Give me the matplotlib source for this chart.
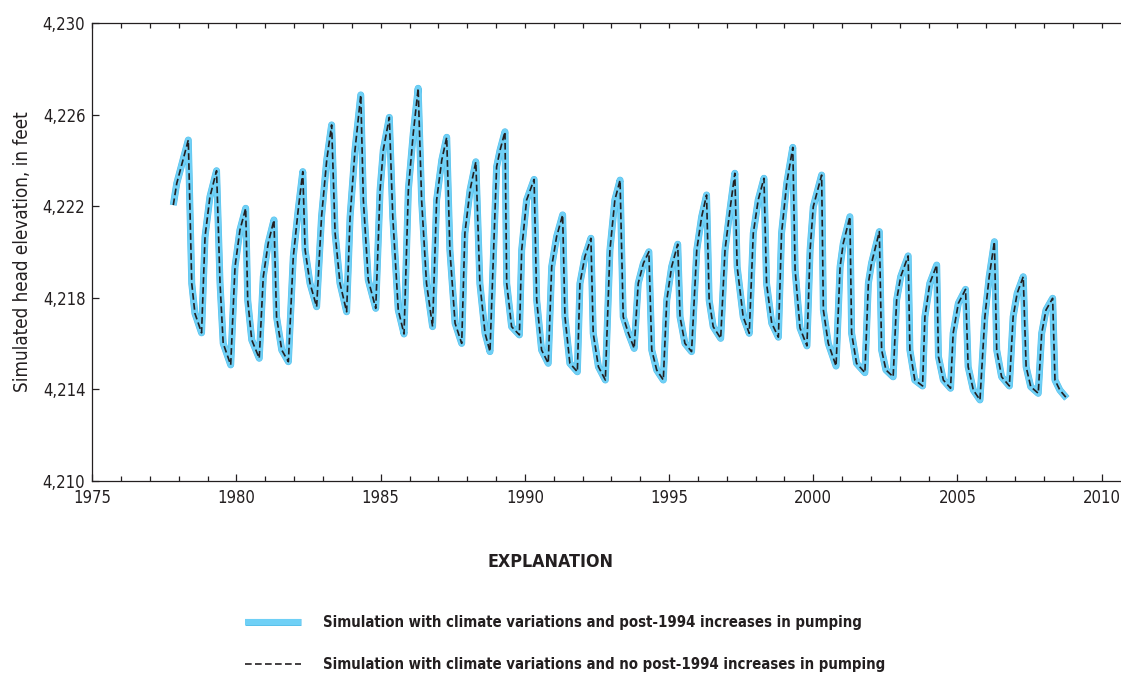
import matplotlib
matplotlib.use("Agg")
import matplotlib.pyplot as plt
import matplotlib.patheffects as pe
from matplotlib.ticker import MultipleLocator, StrMethodFormatter

# one row per yearly cycle (peak, fall, trough, rise)
decimal_year = [
    1977.81, 1977.93,
    1978.33, 1978.45, 1978.56, 1978.79, 1978.91, 1979.08,
    1979.31, 1979.43, 1979.54, 1979.80, 1979.95, 1980.12,
    1980.32, 1980.39, 1980.53, 1980.79, 1980.93, 1981.10,
    1981.30, 1981.39, 1981.57, 1981.80, 1981.97, 1982.14,
    1982.30, 1982.38, 1982.55, 1982.78, 1982.95, 1983.13,
    1983.30, 1983.42, 1983.59, 1983.82, 1983.94, 1984.11,
    1984.31, 1984.40, 1984.57, 1984.83, 1984.98, 1985.09,
    1985.30, 1985.42, 1985.61, 1985.81, 1985.96, 1986.13,
    1986.30, 1986.42, 1986.59, 1986.80, 1986.94, 1987.12,
    1987.29, 1987.40, 1987.58, 1987.81, 1987.92, 1988.10,
    1988.30, 1988.44, 1988.62, 1988.79, 1989.02, 1989.14,
    1989.31, 1989.37, 1989.54, 1989.81, 1989.89, 1990.06,
    1990.32, 1990.41, 1990.58, 1990.81, 1990.93, 1991.10,
    1991.31, 1991.39, 1991.56, 1991.82, 1991.91, 1992.08,
    1992.29, 1992.37, 1992.55, 1992.79, 1992.95, 1993.12,
    1993.30, 1993.41, 1993.59, 1993.79, 1993.93, 1994.11,
    1994.30, 1994.40, 1994.57, 1994.80, 1994.92, 1995.09,
    1995.30, 1995.38, 1995.55, 1995.78, 1995.96, 1996.13,
    1996.30, 1996.39, 1996.53, 1996.79, 1996.94, 1997.11,
    1997.28, 1997.36, 1997.57, 1997.78, 1997.92, 1998.09,
    1998.29, 1998.38, 1998.56, 1998.79, 1998.90, 1999.08,
    1999.29, 1999.37, 1999.54, 1999.78, 1999.89, 2000.00,
    2000.29, 2000.35, 2000.52, 2000.79, 2000.93, 2001.04,
    2001.27, 2001.33, 2001.50, 2001.79, 2001.91, 2002.02,
    2002.29, 2002.37, 2002.52, 2002.77, 2002.89, 2003.03,
    2003.29, 2003.35, 2003.52, 2003.79, 2003.87, 2004.04,
    2004.28, 2004.34, 2004.51, 2004.76, 2004.85, 2005.03,
    2005.28, 2005.37, 2005.55, 2005.78, 2005.95, 2006.10,
    2006.28, 2006.36, 2006.53, 2006.80, 2006.93, 2007.07,
    2007.28, 2007.38, 2007.54, 2007.80, 2007.92, 2008.07,
    2008.30, 2008.38, 2008.55, 2008.79,
]

head_post1994_pumping = [
    4222.05, 4223.00,
    4224.89, 4218.63, 4217.32, 4216.47, 4220.67, 4222.41,
    4223.55, 4218.65, 4216.01, 4215.07, 4219.36, 4220.96,
    4221.91, 4217.90, 4216.16, 4215.36, 4218.92, 4220.38,
    4221.40, 4217.17, 4215.72, 4215.21, 4219.79, 4221.83,
    4223.51, 4220.09, 4218.63, 4217.61, 4221.54, 4224.02,
    4225.55, 4220.82, 4218.63, 4217.39, 4221.54, 4224.45,
    4226.86, 4222.27, 4218.78, 4217.54, 4222.71, 4224.45,
    4225.88, 4221.54, 4217.47, 4216.42, 4222.71, 4225.18,
    4227.15, 4222.27, 4218.63, 4216.74, 4222.27, 4224.02,
    4225.01, 4220.09, 4216.89, 4216.01, 4220.82, 4222.71,
    4223.94, 4218.63, 4216.45, 4215.65, 4223.72, 4224.45,
    4225.25, 4218.63, 4216.74, 4216.38, 4220.09, 4222.27,
    4223.17, 4217.90, 4215.72, 4215.14, 4219.36, 4220.67,
    4221.62, 4217.17, 4215.14, 4214.77, 4218.63, 4219.79,
    4220.60, 4216.45, 4214.99, 4214.41, 4220.09, 4222.27,
    4223.14, 4217.17, 4216.45, 4215.79, 4218.63, 4219.51,
    4220.01, 4215.72, 4214.85, 4214.41, 4217.90, 4219.36,
    4220.34, 4217.17, 4216.01, 4215.65, 4220.09, 4221.54,
    4222.49, 4217.90, 4216.74, 4216.23, 4220.09, 4221.83,
    4223.44, 4219.36, 4217.17, 4216.45, 4220.82, 4222.27,
    4223.22, 4218.63, 4216.89, 4216.28, 4220.82, 4223.00,
    4224.57, 4219.21, 4216.68, 4215.90, 4220.09, 4221.98,
    4223.36, 4217.47, 4216.01, 4215.02, 4219.36, 4220.38,
    4221.54, 4216.45, 4215.14, 4214.73, 4218.63, 4219.51,
    4220.89, 4215.72, 4214.85, 4214.55, 4217.90, 4218.92,
    4219.83, 4215.72, 4214.41, 4214.15, 4217.17, 4218.63,
    4219.43, 4215.43, 4214.41, 4214.05, 4216.45, 4217.76,
    4218.37, 4214.99, 4213.97, 4213.54, 4217.17, 4218.92,
    4220.45, 4215.72, 4214.55, 4214.15, 4217.17, 4218.20,
    4218.92, 4214.99, 4214.12, 4213.83, 4216.45, 4217.47,
    4217.98, 4214.41, 4213.97, 4213.61,
]

# the two runs plot on top of each other at this scale
head_no_post1994_pumping = list(head_post1994_pumping)

y_ticks = [4210, 4214, 4218, 4222, 4226, 4230]

label_post = "Simulation with climate variations and post-1994 increases in pumping"
label_none = "Simulation with climate variations and no post-1994 increases in pumping"

ink = "#231f20"
cond = dict(family="DejaVu Sans", stretch="condensed")

fig = plt.figure(figsize=(11.21, 6.75), dpi=100)
ax = fig.add_axes([0.0823, 0.2874, 0.9177, 0.6785])

ax.plot(decimal_year, head_post1994_pumping, color="#6fd0f6", lw=4.4,
        solid_joinstyle="round", solid_capstyle="butt", label=label_post,
        path_effects=[pe.Stroke(linewidth=5.0, foreground="#55bfea"), pe.Normal()])
ax.plot(decimal_year, head_no_post1994_pumping, color=ink, lw=1.2,
        dashes=(4, 2), label=label_none)

ax.set_xlim(1975, 2010.67)
ax.set_ylim(4210, 4230)
ax.xaxis.set_major_locator(MultipleLocator(5))
ax.xaxis.set_minor_locator(MultipleLocator(1))
ax.set_yticks(y_ticks)
ax.yaxis.set_major_formatter(StrMethodFormatter("{x:,.0f}"))

ax.spines["right"].set_visible(False)
for s in ["left", "top", "bottom"]:
    ax.spines[s].set_linewidth(0.9)
    ax.spines[s].set_color(ink)

ax.tick_params(axis="x", which="major", direction="in", length=5, width=0.9,
               pad=5.5, colors=ink, labelsize=12)
ax.tick_params(axis="x", which="minor", direction="in", length=3.6, width=0.9,
               colors=ink)
ax.tick_params(axis="y", which="major", direction="in", length=5, width=0.9,
               pad=5, colors=ink, labelsize=12)
for lab in ax.get_xticklabels() + ax.get_yticklabels():
    lab.set_family("DejaVu Sans")
    lab.set_stretch("condensed")

# top edge carries a plain tick every year
top = ax.secondary_xaxis("top")
top.xaxis.set_major_locator(MultipleLocator(1))
top.tick_params(direction="in", length=3.6, width=0.9, labeltop=False,
                colors=ink)
top.spines["top"].set_visible(False)

ax.set_ylabel("Simulated head elevation, in feet", fontsize=13.5, color=ink, **cond)
ax.yaxis.set_label_coords(-0.0586, 0.5)

fig.text(0.4915, 0.1674, "EXPLANATION", fontsize=12.8, fontweight="bold",
         ha="center", va="center", color=ink, **cond)

handles, labels = ax.get_legend_handles_labels()
leg = fig.legend(handles, labels, loc="upper left",
                 bbox_to_anchor=(0.2186, 0.0883), frameon=False,
                 handlelength=3.76, handletextpad=1.48, labelspacing=1.8,
                 borderpad=0, borderaxespad=0,
                 prop={"family": "DejaVu Sans", "stretch": "condensed",
                       "weight": "bold", "size": 10.7})
for t in leg.get_texts():
    t.set_color(ink)

fig.savefig("out.png", dpi=100)
